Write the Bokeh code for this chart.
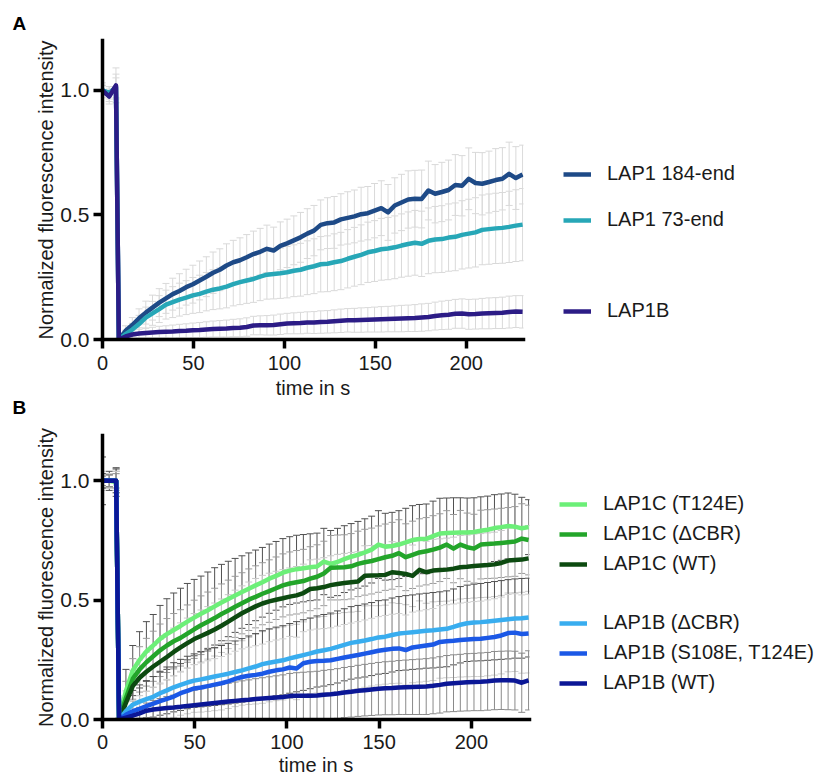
from bokeh.plotting import figure
from bokeh.models import (Range1d, FixedTicker, NumeralTickFormatter, Legend, LegendItem,
                          Whisker, TeeHead, ColumnDataSource, Title)
from bokeh.layouts import column
from bokeh.embed import file_html
from bokeh.resources import INLINE

FONT = "Liberation Sans"
TEXT = "#1a1a1a"

# ---------------- data ----------------
TIME_S = [0.0, 3.7, 7.4, 9.0, 12.7, 16.4, 20.1, 23.8, 27.5, 31.2, 34.9, 38.6, 42.3, 46.0, 49.7,
          53.4, 57.1, 60.8, 64.5, 68.2, 71.9, 75.6, 79.3, 83.0, 86.7, 90.4, 94.1, 97.8, 101.5,
          105.2, 108.9, 112.6, 116.3, 120.0, 123.7, 127.4, 131.1, 134.8, 138.5, 142.2, 145.9,
          149.6, 153.3, 157.0, 160.7, 164.4, 168.1, 171.8, 175.5, 179.2, 182.9, 186.6, 190.3,
          194.0, 197.7, 201.4, 205.1, 208.8, 212.5, 216.2, 219.9, 223.6, 227.3, 231.0]
X_TICKS = [0, 50, 100, 150, 200]
Y_TICKS = [0.0, 0.5, 1.0]

# Panel A
A_LABELS = ["LAP1 184-end", "LAP1 73-end", "LAP1B"]
A_184_MEAN = [1.00, 0.985, 1.015,
              0.00, 0.035, 0.058, 0.085, 0.108, 0.128, 0.148, 0.165, 0.182, 0.195,
              0.21, 0.222, 0.237, 0.252, 0.268, 0.28, 0.297, 0.31, 0.318, 0.33,
              0.343, 0.352, 0.364, 0.357, 0.376, 0.386, 0.398, 0.41, 0.425, 0.437,
              0.46, 0.467, 0.47, 0.482, 0.488, 0.494, 0.503, 0.507, 0.517, 0.527,
              0.51, 0.538, 0.55, 0.562, 0.565, 0.564, 0.598, 0.585, 0.592, 0.60,
              0.62, 0.617, 0.645, 0.628, 0.625, 0.632, 0.64, 0.645, 0.665, 0.648, 0.662]
A_184_SD = [0.03, 0.03, 0.05,
            0.005, 0.02, 0.03, 0.038, 0.046, 0.05, 0.056, 0.06, 0.064, 0.069,
            0.072, 0.076, 0.078, 0.08, 0.083, 0.084, 0.087, 0.088, 0.09, 0.091,
            0.092, 0.094, 0.095, 0.094, 0.096, 0.097, 0.098, 0.1, 0.1, 0.101,
            0.1, 0.102, 0.104, 0.103, 0.105, 0.106, 0.108, 0.107, 0.109, 0.11,
            0.112, 0.111, 0.113, 0.115, 0.114, 0.116, 0.118, 0.117, 0.119, 0.12,
            0.122, 0.121, 0.124, 0.123, 0.125, 0.124, 0.126, 0.125, 0.127, 0.126, 0.118]
A_73_MEAN = [1.00, 0.99, 1.01,
             0.0, 0.022, 0.04, 0.062, 0.088, 0.105, 0.122, 0.14, 0.15, 0.16,
             0.168, 0.177, 0.183, 0.192, 0.20, 0.205, 0.212, 0.222, 0.23, 0.237,
             0.243, 0.252, 0.26, 0.263, 0.266, 0.27, 0.276, 0.28, 0.288, 0.294,
             0.302, 0.304, 0.31, 0.315, 0.324, 0.332, 0.34, 0.35, 0.355, 0.362,
             0.365, 0.37, 0.377, 0.383, 0.388, 0.384, 0.396, 0.401, 0.403, 0.409,
             0.412, 0.42, 0.425, 0.43, 0.44, 0.443, 0.446, 0.448, 0.452, 0.457, 0.461]
A_73_SD = [0.02, 0.025, 0.04,
           0.005, 0.015, 0.025, 0.035, 0.042, 0.048, 0.054, 0.058, 0.062, 0.066,
           0.068, 0.072, 0.075, 0.077, 0.08, 0.082, 0.085, 0.087, 0.09, 0.092,
           0.094, 0.096, 0.098, 0.1, 0.101, 0.103, 0.104, 0.106, 0.108, 0.11,
           0.111, 0.112, 0.114, 0.115, 0.117, 0.118, 0.12, 0.121, 0.122, 0.124,
           0.125, 0.126, 0.127, 0.129, 0.13, 0.131, 0.132, 0.133, 0.134, 0.135,
           0.136, 0.137, 0.138, 0.139, 0.14, 0.141, 0.141, 0.142, 0.143, 0.144, 0.145]
A_1B_MEAN = [1.00, 0.975, 1.02,
             0.0, 0.012, 0.02, 0.024, 0.026, 0.028, 0.03, 0.031, 0.032, 0.034,
             0.035, 0.037, 0.038, 0.04, 0.042, 0.043, 0.044, 0.046, 0.047, 0.05,
             0.056, 0.057, 0.057, 0.058, 0.061, 0.064, 0.065, 0.066, 0.068, 0.068,
             0.07, 0.071, 0.073, 0.075, 0.077, 0.077, 0.078, 0.079, 0.08, 0.081,
             0.082, 0.083, 0.084, 0.085, 0.086, 0.088, 0.09, 0.094, 0.097, 0.099,
             0.103, 0.104, 0.101, 0.102, 0.104, 0.105, 0.106, 0.107, 0.11, 0.112, 0.111]
A_1B_SD = [0.02, 0.03, 0.07,
           0.004, 0.01, 0.014, 0.017, 0.019, 0.021, 0.023, 0.024, 0.026, 0.027,
           0.028, 0.029, 0.03, 0.031, 0.032, 0.033, 0.034, 0.035, 0.036, 0.037,
           0.037, 0.038, 0.039, 0.04, 0.041, 0.041, 0.042, 0.043, 0.043, 0.044,
           0.045, 0.045, 0.046, 0.047, 0.047, 0.048, 0.049, 0.049, 0.05, 0.051,
           0.051, 0.052, 0.053, 0.053, 0.054, 0.055, 0.055, 0.056, 0.057, 0.058,
           0.058, 0.059, 0.06, 0.06, 0.061, 0.062, 0.062, 0.063, 0.064, 0.064, 0.065]

# Panel B
B_LABELS = ["LAP1C (T124E)", "LAP1C (\u0394CBR)", "LAP1C (WT)",
            "LAP1B (\u0394CBR)", "LAP1B (S108E, T124E)", "LAP1B (WT)"]
B_C_T124E_MEAN = [1.0, 1.0, 0.995,
                  0.0, 0.12, 0.205, 0.25, 0.285, 0.31, 0.338, 0.358, 0.375, 0.392,
                  0.41, 0.427, 0.443, 0.458, 0.474, 0.49, 0.505, 0.52, 0.534, 0.548,
                  0.562, 0.575, 0.59, 0.602, 0.615, 0.624, 0.63, 0.634, 0.638, 0.641,
                  0.662, 0.652, 0.66, 0.672, 0.682, 0.69, 0.70, 0.712, 0.733, 0.724,
                  0.727, 0.733, 0.742, 0.752, 0.756, 0.757, 0.768, 0.779, 0.781, 0.783,
                  0.784, 0.784, 0.786, 0.791, 0.795, 0.802, 0.806, 0.811, 0.808, 0.801, 0.806]
B_C_T124E_SD = [0.1, 0.04, 0.06,
                0.005, 0.09, 0.105, 0.118, 0.125, 0.13, 0.14, 0.148, 0.155, 0.158,
                0.16, 0.16, 0.158, 0.16, 0.162, 0.16, 0.158, 0.155, 0.152, 0.15,
                0.148, 0.146, 0.145, 0.144, 0.143, 0.142, 0.142, 0.141, 0.14, 0.14,
                0.139, 0.14, 0.141, 0.14, 0.139, 0.14, 0.141, 0.14, 0.142, 0.14,
                0.141, 0.142, 0.143, 0.144, 0.145, 0.146, 0.147, 0.148, 0.147, 0.146,
                0.145, 0.144, 0.143, 0.142, 0.141, 0.14, 0.139, 0.138, 0.136, 0.13, 0.115]
B_C_DCBR_MEAN = [1.0, 1.0, 1.0,
                 0.0, 0.09, 0.17, 0.21, 0.24, 0.265, 0.29, 0.31, 0.328, 0.342,
                 0.36, 0.378, 0.395, 0.41, 0.425, 0.442, 0.457, 0.472, 0.487, 0.502,
                 0.514, 0.527, 0.538, 0.55, 0.562, 0.57, 0.575, 0.58, 0.59, 0.598,
                 0.612, 0.636, 0.637, 0.638, 0.642, 0.652, 0.659, 0.664, 0.672, 0.68,
                 0.686, 0.697, 0.68, 0.69, 0.70, 0.705, 0.712, 0.72, 0.733, 0.716,
                 0.733, 0.722, 0.716, 0.733, 0.735, 0.737, 0.74, 0.743, 0.746, 0.758, 0.752]
B_C_DCBR_SD = [0.03, 0.03, 0.04,
               0.005, 0.07, 0.085, 0.095, 0.1, 0.105, 0.11, 0.113, 0.116, 0.118,
               0.12, 0.122, 0.123, 0.124, 0.125, 0.126, 0.127, 0.128, 0.128, 0.129,
               0.13, 0.13, 0.131, 0.131, 0.132, 0.132, 0.133, 0.133, 0.134, 0.134,
               0.135, 0.135, 0.136, 0.136, 0.137, 0.137, 0.138, 0.138, 0.139, 0.139,
               0.14, 0.14, 0.14, 0.141, 0.141, 0.141, 0.142, 0.142, 0.142, 0.143,
               0.143, 0.143, 0.144, 0.144, 0.144, 0.145, 0.145, 0.145, 0.146, 0.146, 0.146]
B_C_WT_MEAN = [1.0, 1.0, 1.0,
               0.0, 0.07, 0.14, 0.175, 0.2, 0.222, 0.242, 0.262, 0.283, 0.302,
               0.32, 0.337, 0.35, 0.363, 0.377, 0.393, 0.41, 0.428, 0.445, 0.46,
               0.474, 0.486, 0.495, 0.502, 0.508, 0.515, 0.52, 0.53, 0.547, 0.55,
               0.555, 0.563, 0.568, 0.572, 0.575, 0.578, 0.602, 0.603, 0.604, 0.606,
               0.617, 0.614, 0.61, 0.602, 0.627, 0.617, 0.624, 0.626, 0.628, 0.632,
               0.638, 0.64, 0.643, 0.645, 0.647, 0.65, 0.656, 0.666, 0.668, 0.67, 0.675]
B_C_WT_SD = [0.04, 0.03, 0.05,
             0.005, 0.05, 0.065, 0.075, 0.082, 0.088, 0.093, 0.097, 0.1, 0.103,
             0.105, 0.107, 0.109, 0.11, 0.111, 0.112, 0.113, 0.114, 0.115, 0.116,
             0.117, 0.118, 0.118, 0.119, 0.12, 0.12, 0.121, 0.121, 0.122, 0.122,
             0.123, 0.123, 0.124, 0.124, 0.125, 0.125, 0.126, 0.126, 0.127, 0.127,
             0.128, 0.128, 0.129, 0.129, 0.13, 0.13, 0.131, 0.131, 0.132, 0.132,
             0.133, 0.133, 0.134, 0.134, 0.135, 0.135, 0.136, 0.136, 0.137, 0.137, 0.138]
B_B_DCBR_MEAN = [1.0, 1.0, 1.0,
                 0.0, 0.035, 0.062, 0.075, 0.085, 0.095, 0.11, 0.122, 0.135, 0.145,
                 0.155, 0.163, 0.168, 0.174, 0.18, 0.186, 0.192, 0.199, 0.206, 0.214,
                 0.222, 0.232, 0.238, 0.243, 0.248, 0.256, 0.263, 0.27, 0.277, 0.285,
                 0.29, 0.296, 0.304, 0.313, 0.321, 0.326, 0.331, 0.337, 0.344, 0.347,
                 0.354, 0.36, 0.363, 0.366, 0.369, 0.372, 0.374, 0.377, 0.38, 0.388,
                 0.397, 0.403, 0.406, 0.408, 0.411, 0.414, 0.417, 0.42, 0.423, 0.424, 0.427]
B_B_DCBR_SD = [0.03, 0.025, 0.05,
               0.005, 0.045, 0.06, 0.07, 0.078, 0.085, 0.092, 0.098, 0.103, 0.107,
               0.11, 0.112, 0.115, 0.118, 0.121, 0.124, 0.127, 0.13, 0.133, 0.136,
               0.138, 0.14, 0.142, 0.144, 0.145, 0.146, 0.147, 0.148, 0.148, 0.149,
               0.15, 0.15, 0.151, 0.151, 0.152, 0.152, 0.153, 0.153, 0.154, 0.154,
               0.155, 0.155, 0.156, 0.156, 0.157, 0.157, 0.158, 0.158, 0.159, 0.159,
               0.16, 0.16, 0.161, 0.162, 0.163, 0.164, 0.165, 0.166, 0.166, 0.167, 0.165]
B_B_S108E_MEAN = [1.0, 1.0, 1.0,
                  0.0, 0.02, 0.035, 0.045, 0.056, 0.066, 0.077, 0.086, 0.096, 0.11,
                  0.12, 0.13, 0.134, 0.14, 0.146, 0.152, 0.16, 0.17, 0.178, 0.183,
                  0.187, 0.192, 0.2, 0.206, 0.21, 0.218, 0.214, 0.236, 0.242, 0.245,
                  0.246, 0.248, 0.254, 0.26, 0.265, 0.27, 0.276, 0.282, 0.288, 0.292,
                  0.296, 0.298, 0.291, 0.302, 0.306, 0.31, 0.314, 0.325, 0.328, 0.33,
                  0.333, 0.335, 0.337, 0.338, 0.342, 0.346, 0.352, 0.362, 0.364, 0.358, 0.36]
B_B_S108E_SD = [0.02, 0.03, 0.04,
                0.005, 0.03, 0.045, 0.055, 0.063, 0.07, 0.076, 0.082, 0.087, 0.092,
                0.096, 0.1, 0.103, 0.106, 0.109, 0.112, 0.114, 0.116, 0.118, 0.12,
                0.122, 0.124, 0.126, 0.127, 0.128, 0.13, 0.131, 0.132, 0.133, 0.134,
                0.135, 0.136, 0.137, 0.138, 0.139, 0.14, 0.141, 0.142, 0.143, 0.144,
                0.145, 0.146, 0.147, 0.148, 0.149, 0.15, 0.151, 0.152, 0.153, 0.154,
                0.155, 0.156, 0.157, 0.158, 0.159, 0.16, 0.161, 0.162, 0.163, 0.164, 0.165]
B_B_WT_MEAN = [1.0, 1.0, 1.0,
               0.0, 0.008, 0.016, 0.026, 0.037, 0.042, 0.045, 0.048, 0.05, 0.053,
               0.057, 0.06, 0.063, 0.066, 0.069, 0.072, 0.075, 0.078, 0.081, 0.083,
               0.086, 0.088, 0.09, 0.092, 0.094, 0.098, 0.099, 0.099, 0.10, 0.101,
               0.104, 0.106, 0.109, 0.113, 0.116, 0.12, 0.123, 0.126, 0.129, 0.131,
               0.132, 0.134, 0.135, 0.136, 0.137, 0.138, 0.141, 0.145, 0.15, 0.152,
               0.154, 0.156, 0.157, 0.158, 0.16, 0.163, 0.164, 0.164, 0.163, 0.154, 0.164]
B_B_WT_SD = [0.02, 0.025, 0.03,
             0.004, 0.01, 0.018, 0.025, 0.032, 0.038, 0.043, 0.048, 0.052, 0.056,
             0.06, 0.063, 0.066, 0.069, 0.072, 0.075, 0.077, 0.079, 0.081, 0.083,
             0.085, 0.087, 0.089, 0.091, 0.093, 0.095, 0.097, 0.099, 0.1, 0.101,
             0.102, 0.103, 0.104, 0.105, 0.106, 0.107, 0.108, 0.109, 0.11, 0.111,
             0.112, 0.113, 0.114, 0.115, 0.116, 0.117, 0.117, 0.118, 0.118, 0.119,
             0.119, 0.12, 0.12, 0.121, 0.121, 0.122, 0.122, 0.123, 0.123, 0.124, 0.124]

A_SERIES = [
    (A_LABELS[0], A_184_MEAN, A_184_SD, "#1e4a87", "#d9d9d9"),
    (A_LABELS[1], A_73_MEAN, A_73_SD, "#27a7b7", "#d9d9d9"),
    (A_LABELS[2], A_1B_MEAN, A_1B_SD, "#2c1c86", "#d9d9d9"),
]
B_SERIES = [
    (B_LABELS[0], B_C_T124E_MEAN, B_C_T124E_SD, "#6cef78", "#505050"),
    (B_LABELS[1], B_C_DCBR_MEAN, B_C_DCBR_SD, "#23a52a", "#9a9a9a"),
    (B_LABELS[2], B_C_WT_MEAN, B_C_WT_SD, "#0c4a10", "#c8c8c8"),
    (B_LABELS[3], B_B_DCBR_MEAN, B_B_DCBR_SD, "#38adef", "#505050"),
    (B_LABELS[4], B_B_S108E_MEAN, B_B_S108E_SD, "#1b58e6", "#cfcfcf"),
    (B_LABELS[5], B_B_WT_MEAN, B_B_WT_SD, "#0b1796", "#8a8a8a"),
]


def style_title(t, offset, standoff, valign):
    t.text_font = FONT
    t.text_font_size = "19px"
    t.text_font_style = "bold"
    t.text_color = "black"
    t.align = "left"
    t.offset = offset
    t.standoff = standoff
    t.vertical_align = valign


def make_panel(series, frame_w, frame_h, y_end, b_left, b_top, b_bottom, b_right,
               legend_rows, legend_loc, legend_spacing,
               x_tick_so, x_label_so, y_tick_so, y_label_so):
    p = figure(frame_width=frame_w, frame_height=frame_h,
               x_range=Range1d(0, 231.5), y_range=Range1d(0, y_end),
               output_backend="svg", toolbar_location=None,
               min_border_left=b_left, min_border_top=b_top,
               min_border_bottom=b_bottom, min_border_right=b_right)
    p.grid.visible = False
    p.outline_line_color = None
    p.background_fill_color = "white"
    p.border_fill_color = "white"

    p.xaxis.axis_label = "time in s"
    p.yaxis.axis_label = "Normalized fluorescence intensity"
    p.xaxis.ticker = FixedTicker(ticks=X_TICKS)
    p.yaxis.ticker = FixedTicker(ticks=Y_TICKS)
    p.yaxis.formatter = NumeralTickFormatter(format="0.0")
    for ax, tso, lso in ((p.xaxis[0], x_tick_so, x_label_so), (p.yaxis[0], y_tick_so, y_label_so)):
        ax.axis_line_width = 3.5
        ax.axis_line_color = "black"
        ax.axis_line_cap = "square"
        ax.major_tick_line_width = 3.5
        ax.major_tick_line_color = "black"
        ax.major_tick_out = 9
        ax.major_tick_in = 0
        ax.minor_tick_line_color = None
        ax.major_label_text_font = FONT
        ax.major_label_text_font_size = "20px"
        ax.major_label_text_color = TEXT
        ax.major_label_standoff = tso
        ax.axis_label_text_font = FONT
        ax.axis_label_text_font_size = "20px"
        ax.axis_label_text_font_style = "normal"
        ax.axis_label_text_color = TEXT
        ax.axis_label_standoff = lso
    p.yaxis.major_label_text_font_size = "21px"

    renderers = {}
    for label, mean, sd, color, ecolor in series:
        lo = [max(0.0, m - s) for m, s in zip(mean, sd)]
        hi = [m + s for m, s in zip(mean, sd)]
        src = ColumnDataSource(dict(t=TIME_S, m=mean, lo=lo, hi=hi))
        r = p.line("t", "m", source=src, line_color=color, line_width=4.5, line_join="round")
        renderers[label] = r
        w = Whisker(base="t", lower="lo", upper="hi", source=src,
                    line_color=ecolor, line_width=1,
                    upper_head=TeeHead(size=7, line_color=ecolor, line_width=1),
                    lower_head=TeeHead(size=7, line_color=ecolor, line_width=1))
        p.add_layout(w)

    # invisible renderer used as a blank spacer row in the legend
    spacer = p.line(x=[0], y=[0], line_alpha=0)
    items = []
    for lb in legend_rows:
        if lb is None:
            items.append(LegendItem(label=" ", renderers=[spacer]))
        else:
            items.append(LegendItem(label=lb, renderers=[renderers[lb]]))
    lg = Legend(items=items, location=legend_loc, orientation="vertical",
                glyph_width=28, glyph_height=22, label_standoff=16, label_height=22,
                spacing=legend_spacing, padding=0, margin=0,
                border_line_alpha=0, background_fill_alpha=0,
                label_text_font=FONT, label_text_font_size="20px",
                label_text_color=TEXT)
    p.add_layout(lg, "right")
    return p


pA = make_panel(A_SERIES, 421, 299, 1.2, 102, 40, 82, 312,
                [A_LABELS[0], A_LABELS[1], None, A_LABELS[2]], (40, 17), 23,
                7, 4, 4, 0)
style_title(pA.title, -90, 14, "bottom")
pA.title.text = "A"
titleB = Title(text="B")
style_title(titleB, -90, -10, "top")
pA.add_layout(titleB, "below")

pB = make_panel(B_SERIES, 427, 284, 1.19, 100, 14, 63, 308,
                B_LABELS[:3] + [None] + B_LABELS[3:], (30, 25), 7,
                6, 2, 4, 0)

layout = column(pA, pB, spacing=0)
open("out.html", "w").write(file_html(layout, INLINE))
